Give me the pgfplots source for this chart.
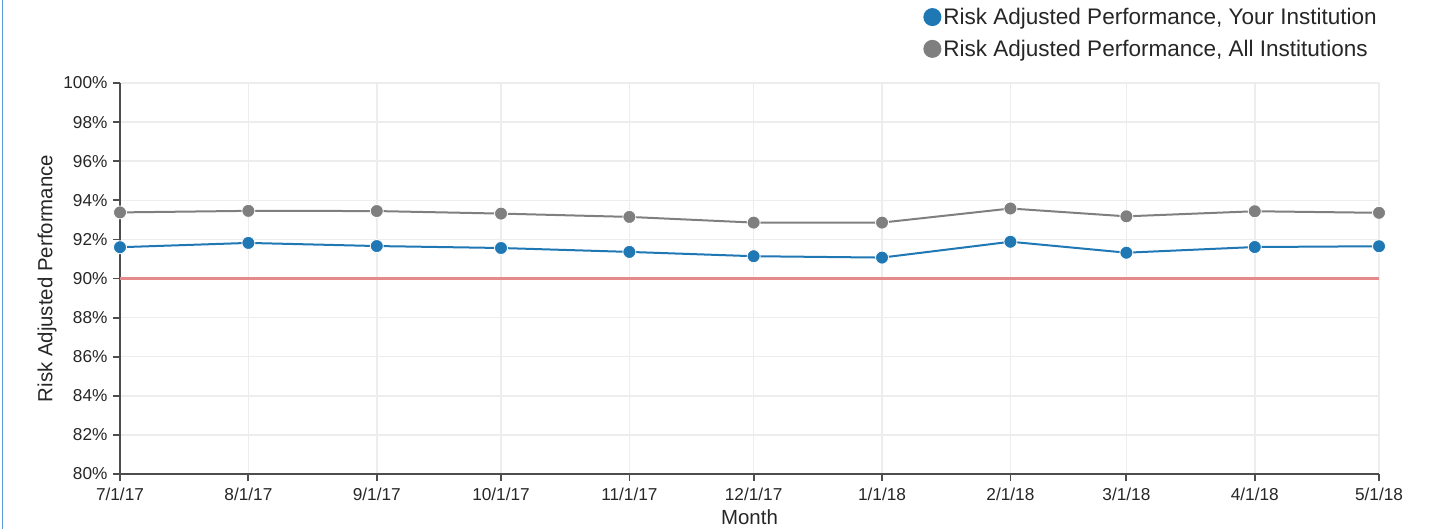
\documentclass[border=0pt]{standalone}
\usepackage{fontspec}
\setmainfont{Liberation Sans}
\usepackage{pgfplots}
\pgfplotsset{compat=1.18}
\usetikzlibrary{calc}
\definecolor{blueS}{HTML}{1F77B4}
\definecolor{grayS}{HTML}{7F7F7F}
\definecolor{redL}{HTML}{E58A8A}
\definecolor{gridc}{HTML}{EDEDED}
\definecolor{axc}{HTML}{4D4D4D}
\definecolor{framec}{HTML}{5B9BD5}
\begin{document}
\begin{tikzpicture}
\begin{axis}[name=ax, scale only axis, width=1259bp, height=391bp,
  xmin=0, xmax=304, ymin=80, ymax=100,
  axis x line=bottom, axis y line=left,
  axis line style={-, axc, line width=2bp},
  xtick={0,31,62,92,123,153,184,215,243,274,304},
  xticklabels={7/1/17,8/1/17,9/1/17,10/1/17,11/1/17,12/1/17,1/1/18,2/1/18,3/1/18,4/1/18,5/1/18},
  ytick={80,82,84,86,88,90,92,94,96,98,100},
  yticklabels={80\%,82\%,84\%,86\%,88\%,90\%,92\%,94\%,96\%,98\%,100\%},
  tick align=outside, major tick length=7bp,
  tick style={axc, line width=1.8bp},
  grid=major, major grid style={gridc, line width=1.5bp},
  ticklabel style={font=\fontsize{17.3}{20}\selectfont, text=black!85},
  xticklabel style={yshift=-3bp},
  yticklabel style={xshift=-2bp},
  xlabel={Month}, ylabel={Risk Adjusted Performance},
  label style={font=\fontsize{20.5}{24}\selectfont, text=black!85},
  ylabel style={at={(axis description cs:-0.058,0.5)}, anchor=center},
  xlabel style={at={(axis description cs:0.5,-0.110)}, anchor=center},
  clip=false,
  legend style={at={(1,1.197)}, anchor=north east, draw=none, fill=none,
    font=\fontsize{22.6}{26}\selectfont, row sep=10bp, inner sep=0pt,
    nodes={inner sep=2bp, text=black!85}},
  legend cell align=left,
  legend image code/.code={\fill[#1] (-1bp,0bp) circle (8bp);},
]
\addplot[redL, line width=2.5bp, forget plot] coordinates {(0,90) (304,90)};
\addplot[blueS, line width=2bp, mark=*, mark size=6.5bp, mark options={draw=white, line width=0.8bp, fill=blueS}]
  coordinates {(0,91.60) (31,91.82) (62,91.66) (92,91.56) (123,91.36) (153,91.14) (184,91.07) (215,91.88) (243,91.32) (274,91.61) (304,91.65)};
\addlegendentry{Risk Adjusted Performance, Your Institution}
\addplot[grayS, line width=2bp, mark=*, mark size=6.5bp, mark options={draw=white, line width=0.8bp, fill=grayS}]
  coordinates {(0,93.38) (31,93.46) (62,93.45) (92,93.32) (123,93.15) (153,92.86) (184,92.86) (215,93.58) (243,93.18) (274,93.44) (304,93.36)};
\addlegendentry{Risk Adjusted Performance, All Institutions}
\end{axis}
\pgfresetboundingbox
\path[use as bounding box] ($(ax.south west)+(-120bp,-55bp)$) rectangle ($(ax.north east)+(52bp,83bp)$);
\draw[framec, line width=1.5bp] ($(ax.south west)+(-117.5bp,-55bp)$) -- ($(ax.south west)+(-117.5bp,474bp)$);
\end{tikzpicture}
\end{document}
